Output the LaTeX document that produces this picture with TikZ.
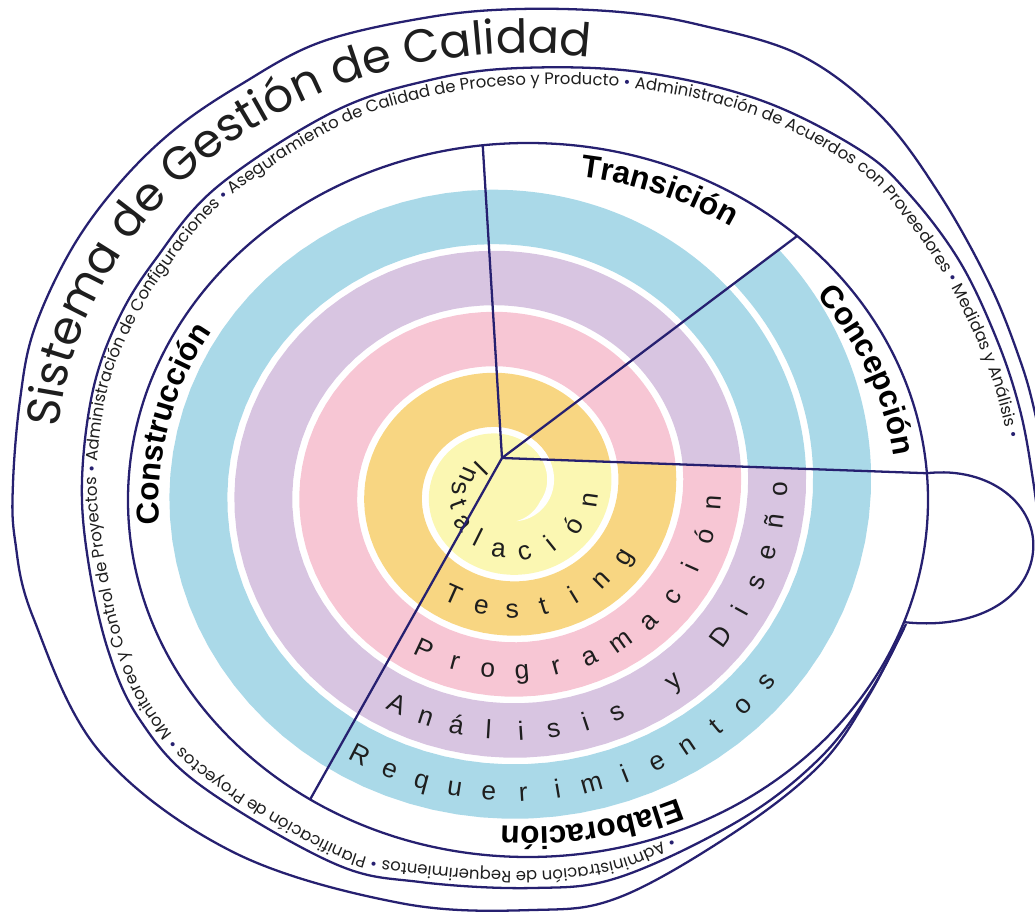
\documentclass[tikz,border=0pt]{standalone}
\usepackage{fontspec}
\setmainfont{Liberation Sans}
\newfontfamily\gothic{Poppins}
\usetikzlibrary{decorations.text}

\definecolor{navy}{RGB}{38,32,112}
\definecolor{ringblue}{RGB}{170,217,232}
\definecolor{ringlav}{RGB}{216,197,225}
\definecolor{ringpink}{RGB}{247,198,212}
\definecolor{ringorange}{RGB}{248,214,130}
\definecolor{ringyellow}{RGB}{251,247,178}
\definecolor{ink}{RGB}{30,30,30}

% radius of the spiral at angle #1 (65 per turn)
\pgfmathdeclarefunction{rsp}{1}{\pgfmathparse{42+0.1805556*#1}}

\newcommand{\titlefont}{\color{ink}\gothic\fontsize{26.5}{26.5}\selectfont}
\newcommand{\areafont}{\color{ink}\gothic\fontsize{9.4}{9.4}\selectfont}
\newcommand{\areabullet}{\areafont\color{navy}}
\newcommand{\phasefont}{\color{black}\bfseries\fontsize{18}{18}\selectfont}
\newcommand{\ringfont}{\color{ink}\fontsize{15}{15}\selectfont}

% one turn of the spiral: colour, from, to, width
\newcommand{\ringband}[4]{%
  \fill[#1] plot[domain=#2:#3, samples=90] ({504+rsp(\x)*cos(\x)}, {489-.94*rsp(\x)*sin(\x)})
    -- plot[domain=#3:#2, samples=90] ({504+max(rsp(\x)-#4,0)*cos(\x)}, {489-.94*max(rsp(\x)-#4,0)*sin(\x)}) -- cycle;}

\tikzset{
 outline/.style
  = {draw=navy, line width=1.3pt},
 ringletter/.style
  = {font=\ringfont, anchor=base, inner sep=0pt},
 phasetext/.style
  = {decorate, decoration={text along path, text align=center, text={|\phasefont|#1}}},
 areatext/.style
  = {decorate, decoration={text along path, text align=left, text={|\areafont|#1}}},
 titletext/.style
  = {decorate, decoration={text along path, text align=left, text={|\titlefont|#1}}},
}

\begin{document}
\begin{tikzpicture}[x=0.02cm, y=-0.02cm]
\useasboundingbox (0,0) rectangle (1035,915);
\clip (0,0) rectangle (1035,915);

% hub and ends of the phase lines
\coordinate (hub) at (502,458);
\coordinate (ctop) at ({528+400*cos(96.5)}, {500-357*sin(96.5)});
\coordinate (ctrans) at ({528+400*cos(47.7)}, {500-357*sin(47.7)});
\coordinate (cconc) at ({528+400*cos(4.3)}, {500-357*sin(4.3)});
\coordinate (celab) at ({528+400*cos(237)}, {500-357*sin(237)});
\coordinate (cloop) at ({528+400*cos(-20)}, {500-357*sin(-20)});

% spiral above the Concepcion line
\begin{scope}
\clip (hub) -- (1780,503) -- (1800,-600) -- (444,-480) -- cycle;
\ringband{ringyellow}{-40}{110}{500}
\ringband{ringorange}{320}{470}{58}
\ringband{ringpink}{680}{830}{58}
\ringband{ringlav}{1040}{1190}{58}
\ringband{ringblue}{1400}{1550}{58}
\end{scope}

% spiral below it
\begin{scope}
\clip (hub) -- (444,-480) -- (-900,-600) -- (-900,1600) -- (1900,1600) -- (1780,503) -- cycle;
\ringband{ringyellow}{60}{420}{500}
\ringband{ringorange}{420}{780}{58}
\ringband{ringpink}{780}{1140}{58}
\ringband{ringlav}{1140}{1500}{58}
\ringband{ringblue}{1500}{1860}{58}
\end{scope}

% end of the blue turn
\begin{scope}
\clip (hub) -- (1780,503) -- (1387,-208) -- cycle;
\ringband{ringblue}{1780}{1870}{58}
\end{scope}

% white curl in the middle
\fill[white] plot[domain=290:425, samples=60] ({504+(rsp(\x)-58)*cos(\x)}, {489-.94*(rsp(\x)-58)*sin(\x)})
  -- plot[domain=425:290, samples=60] ({504+(rsp(\x)-58-7*min(1,(\x-290)/50))*cos(\x)}, {489-.94*(rsp(\x)-58-7*min(1,(\x-290)/50))*sin(\x)}) -- cycle;

% letters of the spiral
\foreach \ch [count=\i from 0, evaluate=\i as \t using 135+21.7*\i, evaluate=\i as \r using 41+5.34*\i] in {I,n,s,t,a,l,a,c,i,ó,n}
  \node[ringletter, rotate=\t+90] (inst\i) at ({504+\r*cos(\t)}, {489-.94*\r*sin(\t)}) {\ch};
\foreach \ch [count=\i from 0, evaluate=\i as \t using 606+13.8*\i] in {T,e,s,t,i,n,g}
  \node[ringletter, rotate=\t+90] (test\i) at ({504+(rsp(\t)-19)*cos(\t)}, {489-.94*(rsp(\t)-19)*sin(\t)}) {\ch};
\foreach \ch [count=\i from 0, evaluate=\i as \t using 965+10.1*\i] in {P,r,o,g,r,a,m,a,c,i,ó,n}
  \node[ringletter, rotate=\t+90] (prog\i) at ({504+(rsp(\t)-19)*cos(\t)}, {489-.94*(rsp(\t)-19)*sin(\t)}) {\ch};
\foreach \ch [count=\i from 0, evaluate=\i as \t using 1325+7.19*\i] in {A,n,á,l,i,s,i,s,,y,,D,i,s,e,ñ,o}
  \node[ringletter, rotate=\t+90] (anal\i) at ({504+(rsp(\t)-19)*cos(\t)}, {489-.94*(rsp(\t)-19)*sin(\t)}) {\ch};
\foreach \ch [count=\i from 0, evaluate=\i as \t using 1683+6.08*\i] in {R,e,q,u,e,r,i,m,i,e,n,t,o,s}
  \node[ringletter, rotate=\t+90] (req\i) at ({504+(rsp(\t)-19)*cos(\t)}, {489-.94*(rsp(\t)-19)*sin(\t)}) {\ch};

% outlines
\draw[outline] (528,500) ellipse [x radius=400, y radius=357];
\draw[outline] plot[smooth, tension=.6] coordinates {(906,624) (870,692) (820,758) (740,820) (620,877) (533,888) (420,882) (333,863) (200,785) (140,720) (108,650) (88,560) (82,480) (93,390) (118,320) (155,260) (217,187) (333,112) (430,80) (520,68) (640,72) (760,100) (860,150) (910,195) (960,262) (997,340) (1020,410) (1033,480) (1042,550)};
\draw[outline] plot[smooth, tension=.6] coordinates {(904,628) (868,697) (820,765) (735,832) (620,897) (533,910) (400,903) (233,852) (100,752) (33,617) (15,540) (13,483) (20,400) (34,330) (71,250) (118,185) (174,130) (240,85) (321,42) (430,17) (520,9) (620,12) (700,25) (800,55) (880,115) (940,195) (990,285) (1020,360) (1035,413) (1048,480)};
\draw[outline] (cconc) .. controls (990,466) and (1038,505) .. (1033,552) .. controls (1028,600) and (975,630) .. (cloop);

% phase lines
\draw[outline] (hub) -- (ctop);
\draw[outline] (hub) -- (ctrans);
\draw[outline] (hub) -- (cconc);
\draw[outline] (hub) -- (celab);

% phase names
\path[phasetext={Construcción}] plot[domain=200:134, samples=40] ({528+369*cos(\x)}, {500-327*sin(\x)});
\path[phasetext={Transición}] plot[domain=92:46, samples=40] ({528+369*cos(\x)}, {500-327*sin(\x)});
\path[phasetext={Concepción}] plot[domain=44:2, samples=40] ({528+369*cos(\x)}, {500-327*sin(\x)});
\path[phasetext={Elaboración}] plot[domain=-58:-102, samples=40] ({528+369*cos(\x)}, {500-327*sin(\x)});

% process areas
\path[areatext={|\areabullet|•|\areafont| Administración de Requerimientos |\areabullet|•|\areafont| Planificación de Proyectos |\areabullet|•|\areafont| Monitoreo y Control de Proyectos |\areabullet|•|\areafont| Administración de Configuraciones |\areabullet|•|\areafont| Aseguramiento de Calidad de Proceso y Producto |\areabullet|•|\areafont| Administración de Acuerdos con Proveedores |\areabullet|•|\areafont| Medidas y Análisis |\areabullet|•}]
  plot[smooth, tension=.6] coordinates {(672,836) (617,860) (533,871) (421,865) (337,846) (210,770) (153,708) (124,643) (105,558) (97,480) (107,392) (133,325) (168,268) (227,199) (338,127) (433,96) (522,85) (640,89) (757,116) (853,166) (900,212) (945,276) (982,352) (1004,420) (1016,482) (1024,580)};

% title
\path[titletext={Sistema de Gestión de Calidad}] plot[domain=175.6:60, samples=70] ({524+466*cos(\x)}, {459-406*sin(\x)});

\end{tikzpicture}
\end{document}
